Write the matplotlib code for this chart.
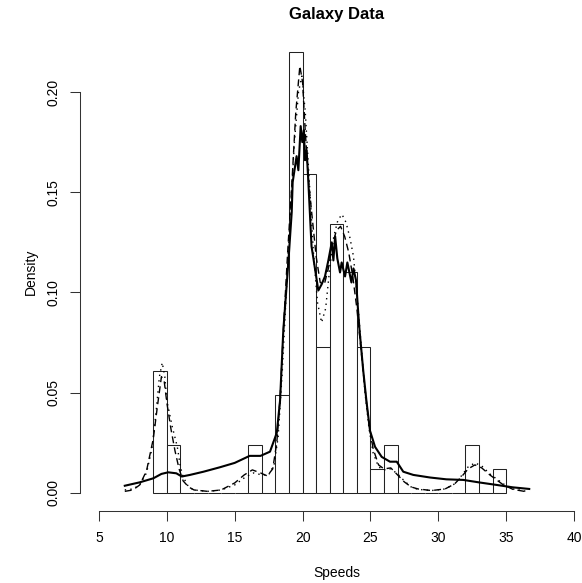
import numpy as np
import matplotlib
matplotlib.use("Agg")
import matplotlib.pyplot as plt

plt.rcParams['font.family'] = ['Liberation Sans', 'DejaVu Sans']

# histogram (bin edges 9..35, width 1) - densities
bin_edges = list(range(9, 36))
bar_density = [0.061, 0.024, 0, 0, 0, 0, 0, 0.024, 0, 0.049, 0.220, 0.159, 0.073,
               0.134, 0.110, 0.073, 0.012, 0.024, 0, 0, 0, 0, 0, 0.024, 0, 0.012]

# thick solid density estimate
solid_x = [6.9, 8.0, 9.0, 9.6, 10.1, 10.7, 11.1, 11.7, 12.7, 13.9, 15.0, 16.1, 16.9,
           17.6, 18.1, 18.34, 18.58, 18.95, 19.2, 19.27, 19.56, 19.69, 19.86, 19.98,
           20.1, 20.18, 20.3, 20.42, 20.66, 20.8, 21.16, 21.4, 21.65, 21.9, 22.15,
           22.27, 22.4, 22.56, 22.76, 22.88, 23.13, 23.3, 23.6, 23.75, 23.94, 24.1,
           24.2, 24.47, 24.72, 24.97, 25.34, 25.83, 26.44, 26.94, 27.42, 28.16, 29.4,
           30.6, 31.85, 33.07, 34.3, 35.5, 36.7]
solid_y = [0.0036, 0.0053, 0.0073, 0.0095, 0.0103, 0.0098, 0.0082, 0.009, 0.0106,
           0.0128, 0.015, 0.0185, 0.0185, 0.0206, 0.030, 0.046, 0.081, 0.115, 0.140,
           0.155, 0.168, 0.161, 0.183, 0.175, 0.181, 0.166, 0.171, 0.156, 0.123,
           0.117, 0.101, 0.104, 0.108, 0.116, 0.125, 0.116, 0.128, 0.117, 0.110,
           0.115, 0.108, 0.115, 0.105, 0.112, 0.106, 0.090, 0.081, 0.061, 0.045,
           0.031, 0.023, 0.018, 0.0156, 0.0156, 0.0106, 0.009, 0.0077, 0.0068,
           0.0065, 0.0052, 0.004, 0.0028, 0.002]

# dashed density estimate
dash_x = [6.9, 7.5, 8.0, 8.5, 9.0, 9.3, 9.6, 9.8, 10.0, 10.3, 10.6, 10.9, 11.2, 11.6,
          12.0, 13.0, 14.0, 15.0, 15.7, 16.3, 16.9, 17.4, 17.8, 18.1, 18.35, 18.6,
          18.9, 19.2, 19.5, 19.8, 20.0, 20.2, 20.45, 20.7, 21.0, 21.3, 21.6, 21.9,
          22.2, 22.5, 22.8, 23.1, 23.4, 23.7, 24.0, 24.3, 24.6, 24.9, 25.2, 25.6,
          26.0, 26.5, 27.0, 27.5, 28.0, 28.5, 29.5, 30.5, 31.2, 31.7, 32.2, 32.7,
          33.2, 33.8, 34.3, 34.8, 35.5, 36.5]
dash_y = [0.0008, 0.0015, 0.004, 0.011, 0.027, 0.043, 0.058, 0.056, 0.045, 0.032,
          0.021, 0.012, 0.006, 0.003, 0.0015, 0.0008, 0.0015, 0.005, 0.009, 0.0115,
          0.010, 0.0085, 0.012, 0.025, 0.048, 0.083, 0.120, 0.153, 0.190, 0.213,
          0.205, 0.180, 0.155, 0.138, 0.118, 0.105, 0.104, 0.112, 0.124, 0.131,
          0.133, 0.128, 0.120, 0.108, 0.092, 0.072, 0.052, 0.034, 0.022, 0.014,
          0.012, 0.0125, 0.009, 0.0055, 0.003, 0.002, 0.0012, 0.002, 0.0045, 0.008,
          0.012, 0.014, 0.0125, 0.009, 0.0065, 0.004, 0.0018, 0.0006]

# dotted density estimate
dot_x = [6.9, 7.5, 8.0, 8.5, 8.9, 9.2, 9.45, 9.66, 9.85, 10.0, 10.4, 10.77, 11.0,
         11.2, 11.6, 12.0, 13.0, 14.0, 15.0, 15.8, 16.4, 17.0, 17.5, 17.9, 18.2,
         18.5, 18.8, 19.1, 19.4, 19.7, 19.95, 20.2, 20.5, 20.8, 21.1, 21.4, 21.7,
         22.0, 22.3, 22.6, 22.9, 23.2, 23.5, 23.75, 24.0, 24.3, 24.6, 24.9, 25.2,
         25.6, 26.0, 26.5, 27.0, 27.5, 28.0, 28.5, 29.5, 30.5, 31.2, 31.7, 32.2,
         32.7, 33.2, 33.8, 34.3, 34.8, 35.5, 36.5]
dot_y = [0.0015, 0.002, 0.004, 0.010, 0.022, 0.040, 0.058, 0.065, 0.058, 0.046,
         0.033, 0.023, 0.013, 0.008, 0.003, 0.0015, 0.0008, 0.0015, 0.004, 0.008,
         0.010, 0.009, 0.009, 0.014, 0.028, 0.060, 0.100, 0.140, 0.175, 0.200,
         0.208, 0.190, 0.155, 0.120, 0.095, 0.085, 0.092, 0.112, 0.128, 0.136,
         0.139, 0.135, 0.127, 0.118, 0.100, 0.075, 0.050, 0.032, 0.020, 0.013,
         0.0115, 0.012, 0.0095, 0.006, 0.003, 0.0018, 0.0012, 0.002, 0.0045,
         0.0085, 0.013, 0.015, 0.0135, 0.0095, 0.007, 0.0045, 0.002, 0.0008]

x_ticks = [5, 10, 15, 20, 25, 30, 35, 40]
y_ticks = [0.00, 0.05, 0.10, 0.15, 0.20]

W, H = 582, 583
fig = plt.figure(figsize=(W / 100, H / 100), dpi=100)
# plot region in pixels: x 80..593, y 34..511 (from top)
ax = fig.add_axes([80 / W, 1 - 510.6 / H, 513 / W, (510.6 - 34.3) / H])

lefts = bin_edges[:-1]
ax.bar(lefts, bar_density, width=1, align='edge', facecolor='white',
       edgecolor='#222222', linewidth=0.75, zorder=1)

ax.plot(solid_x, solid_y, color='black', lw=1.5, zorder=3)
ax.plot(dash_x, dash_y, color='black', lw=1.0, dashes=(5, 3), zorder=2)
ax.plot(dot_x, dot_y, color='black', lw=1.0, dashes=(1, 3), zorder=2)

ax.set_xlim(3.6, 41.4)
ax.set_ylim(-0.0088, 0.2288)
for s in ['top', 'right']:
    ax.spines[s].set_visible(False)
ax.spines['left'].set_bounds(0, 0.20)
ax.spines['bottom'].set_bounds(5, 40)
for s in ['left', 'bottom']:
    ax.spines[s].set_linewidth(0.75)
    ax.spines[s].set_color('#333333')

ax.set_xticks(x_ticks)
ax.set_xticklabels([str(t) for t in x_ticks])
ax.set_yticks(y_ticks)
ax.set_yticklabels(['%.2f' % t for t in y_ticks], rotation=90, va='center')
ax.tick_params(axis='both', length=7, width=0.75, color='#333333', labelsize=10)
ax.tick_params(axis='x', pad=8)
ax.tick_params(axis='y', pad=7)

fig.text(336.5 / W, 1 - 14 / H, 'Galaxy Data', ha='center', va='center',
         fontsize=12, fontweight='bold')
fig.text(336.5 / W, 1 - 573 / H, 'Speeds', ha='center', va='center', fontsize=10)
fig.text(31 / W, 1 - 272 / H, 'Density', ha='center', va='center', fontsize=10,
         rotation=90)

fig.savefig('out.png', dpi=100)
